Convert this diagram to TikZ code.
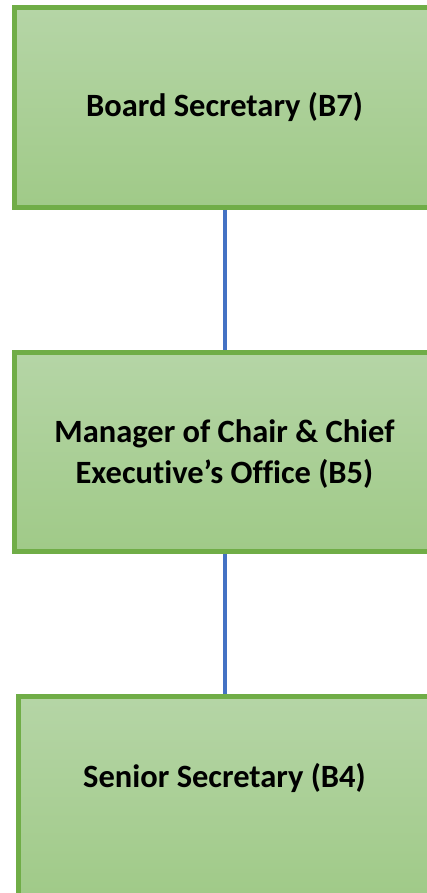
\documentclass[tikz,border=0pt]{standalone}
\usepackage{fontspec}
\setmainfont[Ligatures=NoCommon]{Carlito}
\definecolor{boxborder}{HTML}{70AD47}
\definecolor{filltop}{HTML}{B5D5A6}
\definecolor{fillbot}{HTML}{A0CA88}
\definecolor{linkblue}{HTML}{4472C4}
\tikzset{
  orgbox/.style={draw=boxborder, line width=4.5pt, top color=filltop, bottom color=fillbot, anchor=north west, inner sep=0pt},
  boxtext/.style={font=\bfseries\fontsize{32.5}{41}\selectfont, align=center, text=black, inner sep=0pt},
  link/.style={draw=linkblue, line width=4pt}
}
\begin{document}
\begin{tikzpicture}[x=1pt,y=-1pt]
\useasboundingbox (0,0) rectangle (427,893);
\node[orgbox, minimum width=425pt, minimum height=200pt] (b1) at (12,5.5) {};
\node[orgbox, minimum width=425pt, minimum height=199pt] (b2) at (12,350) {};
\node[orgbox, minimum width=421pt, minimum height=200pt] (b3) at (16,694) {};
\node[boxtext, anchor=base] (t1) at (224.5,117) {Board Secretary (B7)};
\node[boxtext, anchor=base] (t2) at (224.5,483) {Manager of Chair \& Chief\\Executive’s Office (B5)};
\node[boxtext, anchor=base] (t3) at (224.5,787) {Senior Secretary (B4)};
\draw[link] (b1.south -| t1) -- (b2.north -| t1);
\draw[link] (b2.south -| t2) -- (b3.north -| t2);
\end{tikzpicture}
\end{document}
